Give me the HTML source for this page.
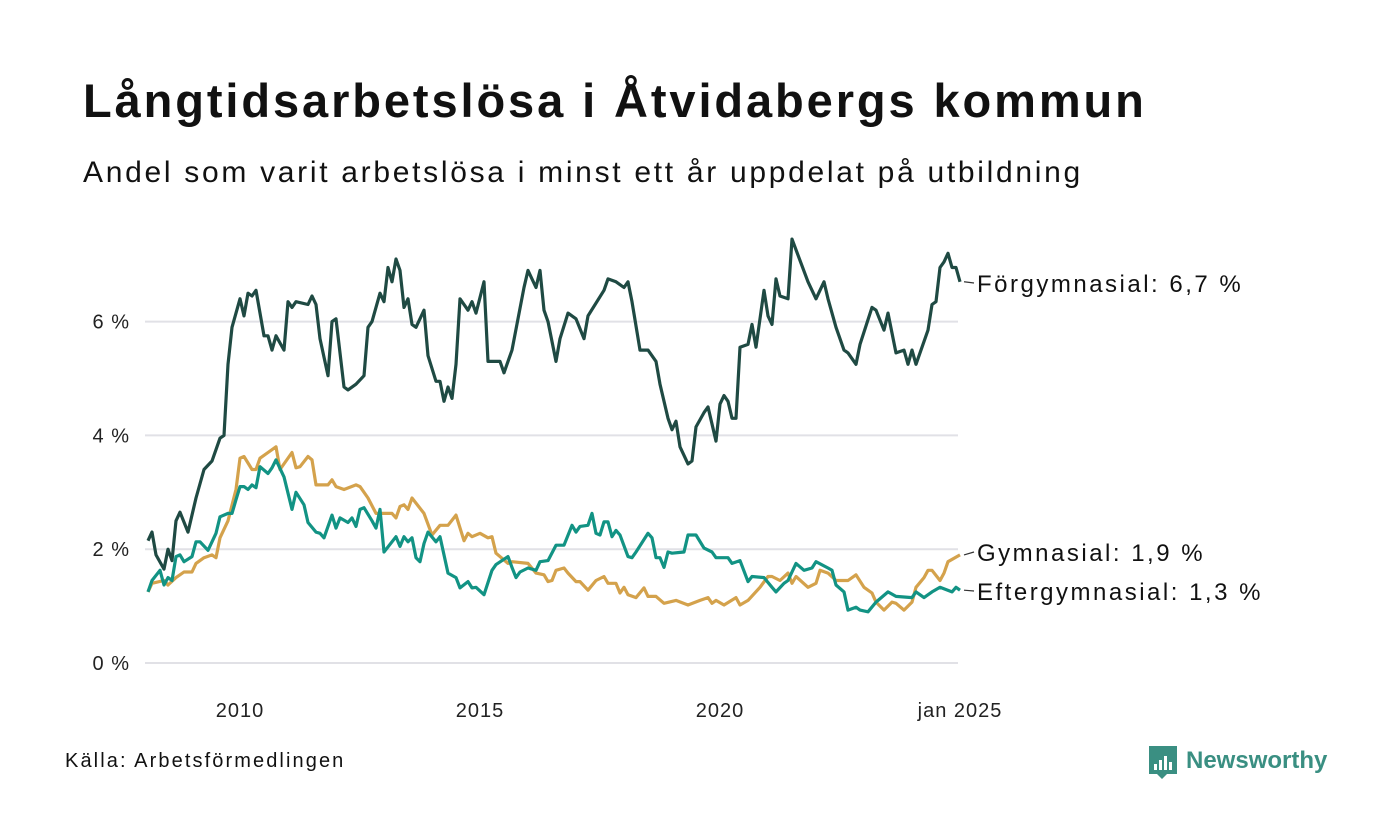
<!DOCTYPE html>
<html><head><meta charset="utf-8"><style>
html,body{margin:0;padding:0;background:#fff;}
body{width:1400px;height:840px;overflow:hidden;position:relative;font-family:"Liberation Sans",sans-serif;color:#111;}
#title{position:absolute;left:83px;top:73px;font-size:47px;font-weight:bold;margin:0;letter-spacing:2.9px;}
#subtitle{position:absolute;left:83px;top:156px;font-size:30px;margin:0;letter-spacing:2.7px;}
#source{position:absolute;left:65px;top:750px;font-size:20px;letter-spacing:2.1px;}
svg{position:absolute;left:0;top:0;}
</style></head><body>
<h1 id="title">Långtidsarbetslösa i Åtvidabergs kommun</h1>
<p id="subtitle">Andel som varit arbetslösa i minst ett år uppdelat på utbildning</p>
<div id="source">Källa: Arbetsförmedlingen</div>
<svg id="chart" width="1400" height="840"></svg>
<script>
// months since Jan 2010
const forgMonths=[-23,-22,-21,-19,-18,-17,-16,-15,-13,-11,-9,-7,-5,-4,-3,-2,0,1,2,3,4,6,7,8,9,11,12,13,14,17,18,19,20,22,23,24,26,27,29,31,32,33,35,36,37,38,39,40,41,42,43,44,46,47,49,50,51,52,53,54,55,57,58,59,61,62,65,66,68,71,72,74,75,76,77,79,80,82,84,86,87,91,92,94,96,97,98,100,102,104,105,107,108,109,110,112,113,114,116,117,119,120,121,122,123,124,125,127,128,129,131,132,133,134,135,137,138,142,144,146,147,149,151,152,154,155,158,159,161,162,164,166,167,168,169,172,173,174,175,176,177,178,179,180];
const forgValues=[2.15,2.3,1.9,1.65,2.0,1.8,2.5,2.65,2.3,2.9,3.4,3.55,3.95,4.0,5.25,5.9,6.4,6.1,6.5,6.45,6.55,5.75,5.75,5.5,5.75,5.5,6.35,6.25,6.35,6.3,6.45,6.3,5.7,5.05,6.0,6.05,4.85,4.8,4.9,5.05,5.9,6.0,6.5,6.35,6.95,6.7,7.1,6.9,6.25,6.4,5.95,5.9,6.2,5.4,4.95,4.95,4.6,4.85,4.65,5.25,6.4,6.2,6.35,6.15,6.7,5.3,5.3,5.1,5.5,6.6,6.9,6.6,6.9,6.2,6.0,5.3,5.7,6.15,6.05,5.7,6.1,6.55,6.75,6.7,6.6,6.7,6.35,5.5,5.5,5.3,4.9,4.3,4.1,4.25,3.8,3.5,3.55,4.15,4.4,4.5,3.9,4.55,4.7,4.6,4.3,4.3,5.55,5.6,5.95,5.55,6.55,6.1,5.95,6.75,6.45,6.4,7.45,6.7,6.4,6.7,6.4,5.9,5.5,5.45,5.25,5.6,6.25,6.2,5.85,6.15,5.45,5.5,5.25,5.5,5.25,5.85,6.3,6.35,6.95,7.05,7.2,6.95,6.95,6.7];
const gymMonths=[-23,-22,-19,-18,-16,-14,-12,-11,-9,-7,-6,-5,-3,-1,0,1,3,4,5,7,9,10,13,14,15,17,18,19,22,23,24,26,29,30,32,34,36,38,39,40,41,42,43,46,48,50,52,54,56,57,58,60,62,63,64,67,68,72,74,76,77,78,79,81,82,84,85,87,89,91,92,94,95,96,97,99,101,102,104,106,109,112,115,117,118,119,121,124,125,127,130,132,133,135,137,138,139,142,144,145,147,149,152,154,156,158,159,161,163,164,166,168,169,171,172,173,175,176,177,180];
const gymValues=[1.25,1.4,1.45,1.37,1.5,1.6,1.6,1.75,1.85,1.9,1.85,2.2,2.5,3.05,3.6,3.63,3.4,3.4,3.6,3.7,3.8,3.4,3.7,3.43,3.45,3.63,3.57,3.13,3.13,3.22,3.1,3.05,3.13,3.1,2.9,2.63,2.63,2.63,2.55,2.75,2.78,2.7,2.9,2.63,2.25,2.42,2.42,2.6,2.15,2.28,2.22,2.28,2.2,2.22,1.93,1.75,1.78,1.75,1.58,1.55,1.43,1.45,1.63,1.67,1.58,1.43,1.43,1.28,1.45,1.52,1.4,1.4,1.23,1.33,1.2,1.15,1.32,1.17,1.17,1.05,1.1,1.02,1.1,1.15,1.05,1.1,1.02,1.15,1.02,1.1,1.33,1.52,1.52,1.45,1.58,1.4,1.52,1.33,1.4,1.63,1.58,1.45,1.45,1.55,1.33,1.23,1.07,0.93,1.07,1.05,0.93,1.07,1.33,1.5,1.63,1.63,1.45,1.58,1.78,1.9];
const eftMonths=[-23,-22,-20,-19,-18,-17,-16,-15,-14,-12,-11,-10,-8,-6,-5,-3,-2,-1,0,1,2,3,4,5,7,8,9,11,13,14,16,17,19,20,21,23,24,25,27,28,29,30,31,33,34,35,36,39,40,41,42,43,44,45,46,47,49,50,52,54,55,57,58,59,61,63,64,67,68,69,70,72,74,75,77,79,81,83,84,85,87,88,89,90,91,92,93,94,95,97,98,99,102,103,104,105,106,107,108,111,112,114,116,118,119,122,123,125,127,128,131,133,134,136,137,139,141,143,144,147,148,149,151,152,154,155,157,159,162,164,168,169,171,173,175,178,179,180];
const eftValues=[1.25,1.45,1.63,1.37,1.5,1.45,1.87,1.9,1.78,1.87,2.13,2.13,1.98,2.28,2.57,2.63,2.63,2.87,3.1,3.1,3.05,3.13,3.08,3.45,3.33,3.43,3.57,3.27,2.7,3.0,2.78,2.47,2.3,2.28,2.2,2.6,2.37,2.55,2.47,2.55,2.4,2.7,2.73,2.5,2.37,2.7,1.95,2.22,2.05,2.22,2.13,2.2,1.85,1.78,2.1,2.3,2.13,2.22,1.58,1.5,1.32,1.43,1.32,1.33,1.2,1.63,1.73,1.87,1.68,1.5,1.6,1.67,1.63,1.78,1.8,2.07,2.07,2.42,2.3,2.4,2.42,2.63,2.28,2.25,2.48,2.48,2.22,2.33,2.25,1.87,1.85,1.95,2.28,2.2,1.85,1.85,1.68,1.95,1.93,1.95,2.25,2.25,2.02,1.95,1.85,1.85,1.75,1.8,1.43,1.52,1.5,1.33,1.25,1.4,1.45,1.75,1.63,1.67,1.78,1.67,1.63,1.37,1.25,0.93,0.98,0.93,0.9,1.07,1.25,1.17,1.15,1.25,1.15,1.25,1.33,1.25,1.33,1.28];
const yTicks=[0,2,4,6];
const yTickLabels=["0 %","2 %","4 %","6 %"];
const xTicks=[0,60,120,180];
const xTickLabels=["2010","2015","2020","jan 2025"];
const seriesNames=["Förgymnasial","Gymnasial","Eftergymnasial"];
const lastValues=["6,7 %","1,9 %","1,3 %"];

const NS="http://www.w3.org/2000/svg";
const svg=document.getElementById('chart');
const X=m=>240+m*4;
const Y=v=>663-v*56.9;
function mk(t,a){const e=document.createElementNS(NS,t);for(const k in a)e.setAttribute(k,a[k]);svg.appendChild(e);return e;}
yTicks.forEach((t,i)=>{
  const g=mk('line',{x1:145,x2:958,y1:Y(t),y2:Y(t),stroke:'#e1e1e6','stroke-width':2});
  
  
  const l=mk('text',{x:130,y:Y(t)+7,'text-anchor':'end','font-size':20,fill:'#222','font-family':'Liberation Sans, sans-serif','letter-spacing':1});
  l.textContent=yTickLabels[i];
  
  
});
xTicks.forEach((t,i)=>{
  const l=mk('text',{x:X(t),y:717,'text-anchor':'middle','font-size':20,fill:'#222','font-family':'Liberation Sans, sans-serif','letter-spacing':1});
  l.textContent=xTickLabels[i];
  
  
});
const series=[[forgMonths,forgValues,'#1f4a43'],[gymMonths,gymValues,'#d4a24c'],[eftMonths,eftValues,'#129384']];
const labelY=[284,553,592];
series.forEach((s,i)=>{
  const d=s[0].map((m,j)=>(j?'L':'M')+X(m).toFixed(1)+','+Y(s[1][j]).toFixed(1)).join('');
  const p=mk('path',{d:d,fill:'none',stroke:s[2],'stroke-width':3.2,'stroke-linejoin':'round'});
  
  
  const lv=s[1][s[1].length-1], lx=X(s[0][s[0].length-1]);
  const c=mk('line',{x1:lx+4,y1:Y(lv),x2:lx+14,y2:labelY[i]-1,stroke:'#333','stroke-width':1.2});
  
  
  const t=mk('text',{x:977,y:labelY[i]+8,'font-size':24,fill:'#111','font-family':'Liberation Sans, sans-serif','letter-spacing':2.5});
  t.textContent=seriesNames[i]+': '+lastValues[i];
  
  
});
// logo
const lg=mk('g',{});


const r=document.createElementNS(NS,'path');
r.setAttribute('d','M1149,746h28v28h-10l-5,5l-5,-5h-8z');r.setAttribute('fill','#3a8f82');lg.appendChild(r);
[[1154,764,6],[1159,760,10],[1164,756,14],[1169,762,8]].forEach(b=>{const e=document.createElementNS(NS,'rect');e.setAttribute('x',b[0]);e.setAttribute('y',b[1]);e.setAttribute('width',3);e.setAttribute('height',b[2]);e.setAttribute('fill','#fff');lg.appendChild(e);});
const lt=document.createElementNS(NS,'text');
lt.setAttribute('x',1186);lt.setAttribute('y',768);lt.setAttribute('font-size',24);lt.setAttribute('font-weight','bold');lt.setAttribute('fill','#3a8f82');lt.setAttribute('font-family','Liberation Sans, sans-serif');
lt.textContent='Newsworthy';lg.appendChild(lt);
</script>
</body></html>
